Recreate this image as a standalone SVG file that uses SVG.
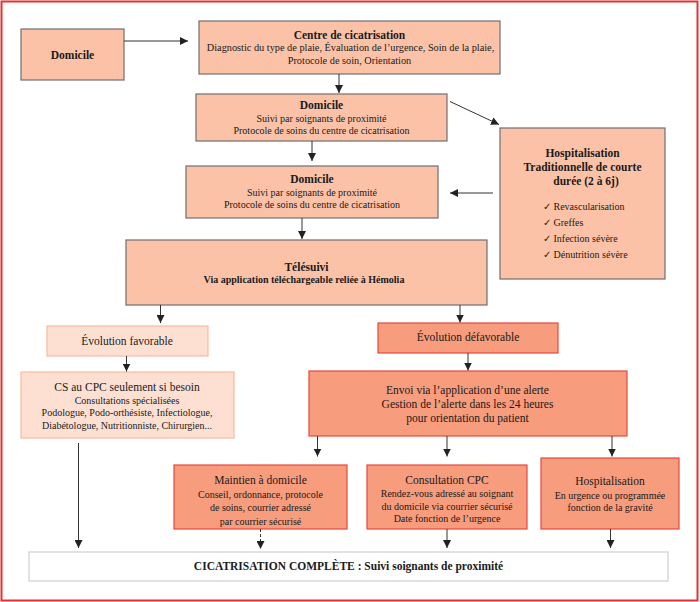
<svg xmlns="http://www.w3.org/2000/svg" width="700" height="602" viewBox="0 0 700 602" font-family="'Liberation Serif', 'Times New Roman', 'DejaVu Serif', serif">
<style>
text{font-family:'Liberation Serif','Times New Roman','DejaVu Serif',serif;fill:#1a1a1a;text-anchor:middle}
.b{font-weight:bold}
.t{font-size:11.5px}
.s{font-size:10px}
.l{text-anchor:start}
.peach{fill:#fcc2a7;stroke:#6e6e6e;stroke-width:1.2}
.light{fill:#fde0d2;stroke:#f8b9a0;stroke-width:1.2}
.salmon{fill:#f79c7c;stroke:#e8483a;stroke-width:1.2}
.c line{stroke:#333;stroke-width:1}
</style>
<defs>
<marker id="ah" viewBox="0 0 10 10" refX="10" refY="5" markerWidth="8" markerHeight="8" markerUnits="userSpaceOnUse" orient="auto">
<path d="M0,0 L10,5 L0,10 z" fill="#222"/>
</marker>
</defs>
<rect x="0" y="0" width="700" height="602" fill="#fff"/>
<rect x="1.5" y="1.5" width="696" height="599" fill="none" stroke="#e8312f" stroke-width="2"/>

<g id="domicile1"><rect class="peach" x="21" y="29" width="103" height="51"/>
<text class="b t" x="72.5" y="59">Domicile</text></g>

<g id="centre"><rect class="peach" x="199" y="21" width="301" height="53"/>
<text class="b t" x="349.5" y="39">Centre de cicatrisation</text>
<text class="s" x="350.5" y="51" style="font-size:10.3px">Diagnostic du type de plaie, Évaluation de l’urgence, Soin de la plaie,</text>
<text class="s" x="349.5" y="64" style="font-size:10.3px">Protocole de soin, Orientation</text></g>

<g id="domicile2"><rect class="peach" x="196" y="94" width="251" height="47"/>
<text class="b t" x="321.5" y="109">Domicile</text>
<text class="s" x="321.5" y="122">Suivi par soignants de proximité</text>
<text class="s" x="321.5" y="134">Protocole de soins du centre de cicatrisation</text></g>

<g id="domicile3"><rect class="peach" x="186" y="166" width="252" height="52"/>
<text class="b t" x="312" y="183">Domicile</text>
<text class="s" x="312" y="196">Suivi par soignants de proximité</text>
<text class="s" x="312" y="208">Protocole de soins du centre de cicatrisation</text></g>

<g id="hospitalisation1"><rect class="peach" x="500" y="128" width="165" height="151"/>
<text class="b t" x="582.5" y="157">Hospitalisation</text>
<text class="b t" x="582.5" y="171">Traditionnelle de courte</text>
<text class="b t" x="586" y="185">durée (2 à 6j)</text>
<text class="s l" x="543" y="210">✓ Revascularisation</text>
<text class="s l" x="543" y="226">✓ Greffes</text>
<text class="s l" x="543" y="242">✓ Infection sévère</text>
<text class="s l" x="543" y="258">✓ Dénutrition sévère</text></g>

<g id="telesuivi"><rect class="peach" x="126" y="240" width="361" height="65"/>
<text class="b t" x="306.5" y="271">Télésuivi</text>
<text class="b s" x="304" y="283">Via application téléchargeable reliée à Hémolia</text></g>

<g id="favorable"><rect class="light" x="47" y="326" width="161" height="30"/>
<text class="t" x="127" y="345">Évolution favorable</text></g>

<g id="defavorable"><rect class="salmon" x="378" y="323" width="180" height="30"/>
<text class="t" x="468" y="341">Évolution défavorable</text></g>

<g id="cs-cpc"><rect class="light" x="21" y="372" width="213" height="66"/>
<text class="t" x="127" y="391">CS au CPC seulement si besoin</text>
<text class="s" x="127" y="404">Consultations spécialisées</text>
<text class="s" x="127" y="416">Podologue, Podo-orthésiste, Infectiologue,</text>
<text class="s" x="127" y="429">Diabétologue, Nutritionniste, Chirurgien...</text></g>

<g id="envoi"><rect class="salmon" x="309" y="371" width="318" height="65"/>
<text class="t" x="467.5" y="394">Envoi via l’application d’une alerte</text>
<text class="t" x="467.5" y="407.5">Gestion de l’alerte dans les 24 heures</text>
<text class="t" x="467.5" y="421.5">pour orientation du patient</text></g>

<g id="maintien"><rect class="salmon" x="174" y="465" width="173" height="64"/>
<text class="t" x="260.5" y="483.5">Maintien à domicile</text>
<text class="s" x="260.5" y="497.5">Conseil, ordonnance, protocole</text>
<text class="s" x="260.5" y="511">de soins, courrier adressé</text>
<text class="s" x="260.5" y="524.5">par courrier sécurisé</text></g>

<g id="consultation"><rect class="salmon" x="367" y="465" width="160" height="64"/>
<text class="t" x="447" y="483.5">Consultation CPC</text>
<text class="s" x="447" y="497">Rendez-vous adressé au soignant</text>
<text class="s" x="447" y="509.5">du domicile via courrier sécurisé</text>
<text class="s" x="447" y="522">Date fonction de l’urgence</text></g>

<g id="hospitalisation2"><rect class="salmon" x="541" y="458" width="138" height="71"/>
<text class="t" x="610" y="485">Hospitalisation</text>
<text class="s" x="610" y="498.5">En urgence ou programmée</text>
<text class="s" x="610" y="511">fonction de la gravité</text></g>

<g id="cicatrisation"><rect x="29" y="552" width="639" height="29" fill="#fff" stroke="#cfcfcf" stroke-width="1.2"/>
<text class="b t" x="348.5" y="570">CICATRISATION COMPLÈTE : Suivi soignants de proximité</text></g>

<g id="connectors" class="c">
<line x1="124" y1="41" x2="188" y2="41" marker-end="url(#ah)"/>
<line x1="339" y1="74" x2="339" y2="93" marker-end="url(#ah)"/>
<line x1="312" y1="141" x2="312" y2="161" marker-end="url(#ah)"/>
<line x1="450" y1="101.5" x2="499" y2="124.5" marker-end="url(#ah)"/>
<line x1="493" y1="193" x2="450" y2="193" marker-end="url(#ah)"/>
<line x1="302" y1="218" x2="302" y2="239" marker-end="url(#ah)"/>
<line x1="160.5" y1="305" x2="160.5" y2="323" marker-end="url(#ah)"/>
<line x1="460" y1="305" x2="460" y2="322.5" marker-end="url(#ah)"/>
<line x1="126.5" y1="356" x2="126.5" y2="371.5" marker-end="url(#ah)"/>
<line x1="468" y1="353" x2="468" y2="370.5" marker-end="url(#ah)"/>
<line x1="317.5" y1="436" x2="317.5" y2="456.5" marker-end="url(#ah)"/>
<line x1="447" y1="436" x2="447" y2="456.5" marker-end="url(#ah)"/>
<line x1="612" y1="436" x2="612" y2="456.5" marker-end="url(#ah)"/>
<line x1="78.5" y1="443" x2="78.5" y2="548" marker-end="url(#ah)"/>
<line x1="260.5" y1="529" x2="260.5" y2="549" stroke-dasharray="3,2" marker-end="url(#ah)"/>
<line x1="447" y1="529" x2="447" y2="548" marker-end="url(#ah)"/>
<line x1="610.5" y1="529" x2="610.5" y2="548" marker-end="url(#ah)"/>
</g>
</svg>
